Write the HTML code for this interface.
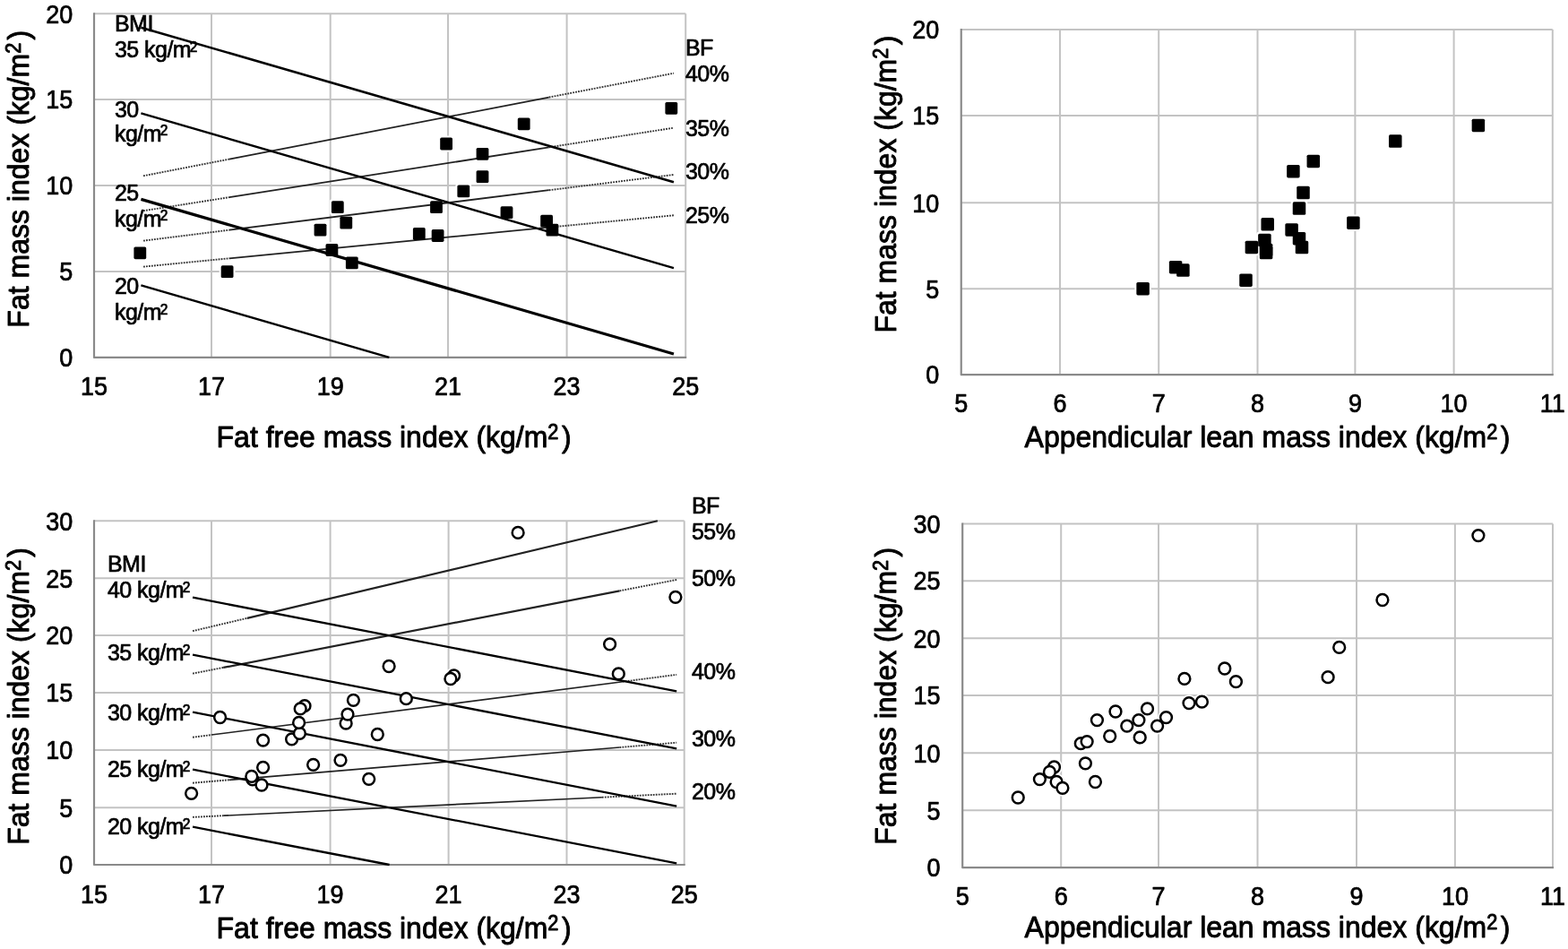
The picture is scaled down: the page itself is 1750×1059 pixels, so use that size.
<!DOCTYPE html>
<html><head><meta charset="utf-8"><title>Fat mass index vs fat free mass index and appendicular lean mass index</title>
<style>html,body{margin:0;padding:0;background:#fff;overflow:hidden;}svg{display:block;}
text{font-family:"Liberation Sans", Arial, sans-serif;fill:#000;stroke:#000;stroke-width:0.7px;stroke-linejoin:round;}
.a{font-size:25px;letter-spacing:-0.55px;}
.t{stroke-width:0.9px;}</style></head>
<body><svg width="1750" height="1059" viewBox="0 0 1750 1059">
<rect width="1750" height="1059" fill="#fff"/>
<g stroke="#c3c3c3" stroke-width="2"><line x1="236.00" y1="15.30" x2="236.00" y2="398.90"/><line x1="368.70" y1="15.30" x2="368.70" y2="398.90"/><line x1="500.00" y1="15.30" x2="500.00" y2="398.90"/><line x1="632.60" y1="15.30" x2="632.60" y2="398.90"/><line x1="765.20" y1="15.30" x2="765.20" y2="398.90"/><line x1="105.00" y1="303.00" x2="765.20" y2="303.00"/><line x1="105.00" y1="207.00" x2="765.20" y2="207.00"/><line x1="105.00" y1="111.10" x2="765.20" y2="111.10"/><line x1="105.00" y1="15.30" x2="765.20" y2="15.30"/></g><path d="M105.00,14.30V398.90H766.20" fill="none" stroke="#8a8a8a" stroke-width="2.2" stroke-linejoin="round"/>
<g fill="#fff"><rect x="147.40" y="273.40" width="17.8" height="17.8" rx="3"/><rect x="244.70" y="294.30" width="17.8" height="17.8" rx="3"/><rect x="348.60" y="247.70" width="17.8" height="17.8" rx="3"/><rect x="367.90" y="222.30" width="17.8" height="17.8" rx="3"/><rect x="377.40" y="239.70" width="17.8" height="17.8" rx="3"/><rect x="361.50" y="270.10" width="17.8" height="17.8" rx="3"/><rect x="383.90" y="284.50" width="17.8" height="17.8" rx="3"/><rect x="740.40" y="111.90" width="17.8" height="17.8" rx="3"/><rect x="575.80" y="129.40" width="17.8" height="17.8" rx="3"/><rect x="489.20" y="151.60" width="17.8" height="17.8" rx="3"/><rect x="529.60" y="162.90" width="17.8" height="17.8" rx="3"/><rect x="529.60" y="188.20" width="17.8" height="17.8" rx="3"/><rect x="508.40" y="204.50" width="17.8" height="17.8" rx="3"/><rect x="478.10" y="222.30" width="17.8" height="17.8" rx="3"/><rect x="556.60" y="228.30" width="17.8" height="17.8" rx="3"/><rect x="601.20" y="237.80" width="17.8" height="17.8" rx="3"/><rect x="607.50" y="247.70" width="17.8" height="17.8" rx="3"/><rect x="458.90" y="252.10" width="17.8" height="17.8" rx="3"/><rect x="479.70" y="254.10" width="17.8" height="17.8" rx="3"/></g>
<line x1="160.02" y1="297.62" x2="255.91" y2="288.28" stroke="#333" stroke-width="1.9" stroke-dasharray="1.8 1.2"/>
<line x1="255.91" y1="288.28" x2="612.71" y2="253.72" stroke="#222" stroke-width="1.8"/>
<line x1="612.71" y1="253.72" x2="751.94" y2="240.28" stroke="#333" stroke-width="1.9" stroke-dasharray="1.8 1.2"/>
<line x1="160.02" y1="268.66" x2="255.91" y2="256.65" stroke="#333" stroke-width="1.9" stroke-dasharray="1.8 1.2"/>
<line x1="255.91" y1="256.65" x2="612.71" y2="212.21" stroke="#222" stroke-width="1.8"/>
<line x1="612.71" y1="212.21" x2="751.94" y2="194.94" stroke="#333" stroke-width="1.9" stroke-dasharray="1.8 1.2"/>
<line x1="160.02" y1="235.24" x2="255.91" y2="220.14" stroke="#333" stroke-width="1.9" stroke-dasharray="1.8 1.2"/>
<line x1="255.91" y1="220.14" x2="612.71" y2="164.36" stroke="#222" stroke-width="1.8"/>
<line x1="612.71" y1="164.36" x2="751.94" y2="142.67" stroke="#333" stroke-width="1.9" stroke-dasharray="1.8 1.2"/>
<line x1="160.02" y1="196.26" x2="255.91" y2="177.59" stroke="#333" stroke-width="1.9" stroke-dasharray="1.8 1.2"/>
<line x1="255.91" y1="177.59" x2="612.71" y2="108.55" stroke="#222" stroke-width="1.8"/>
<line x1="612.71" y1="108.55" x2="751.94" y2="81.72" stroke="#333" stroke-width="1.9" stroke-dasharray="1.8 1.2"/>
<g stroke="#000"><line x1="157.40" y1="318.34" x2="434.35" y2="398.90" stroke-width="2.4"/><line x1="157.40" y1="222.36" x2="751.94" y2="395.06" stroke-width="3.2"/><line x1="157.40" y1="126.44" x2="751.94" y2="299.16" stroke-width="2.4"/><line x1="157.40" y1="30.63" x2="751.94" y2="203.16" stroke-width="2.6"/></g>
<g fill="#000"><rect x="149.40" y="275.40" width="13.8" height="13.8" rx="1.6"/><rect x="246.70" y="296.30" width="13.8" height="13.8" rx="1.6"/><rect x="350.60" y="249.70" width="13.8" height="13.8" rx="1.6"/><rect x="369.90" y="224.30" width="13.8" height="13.8" rx="1.6"/><rect x="379.40" y="241.70" width="13.8" height="13.8" rx="1.6"/><rect x="363.50" y="272.10" width="13.8" height="13.8" rx="1.6"/><rect x="385.90" y="286.50" width="13.8" height="13.8" rx="1.6"/><rect x="742.40" y="113.90" width="13.8" height="13.8" rx="1.6"/><rect x="577.80" y="131.40" width="13.8" height="13.8" rx="1.6"/><rect x="491.20" y="153.60" width="13.8" height="13.8" rx="1.6"/><rect x="531.60" y="164.90" width="13.8" height="13.8" rx="1.6"/><rect x="531.60" y="190.20" width="13.8" height="13.8" rx="1.6"/><rect x="510.40" y="206.50" width="13.8" height="13.8" rx="1.6"/><rect x="480.10" y="224.30" width="13.8" height="13.8" rx="1.6"/><rect x="558.60" y="230.30" width="13.8" height="13.8" rx="1.6"/><rect x="603.20" y="239.80" width="13.8" height="13.8" rx="1.6"/><rect x="609.50" y="249.70" width="13.8" height="13.8" rx="1.6"/><rect x="460.90" y="254.10" width="13.8" height="13.8" rx="1.6"/><rect x="481.70" y="256.10" width="13.8" height="13.8" rx="1.6"/></g>
<g font-size="27"><text transform="translate(105.00,441.30) scale(1,1.065)" text-anchor="middle">15</text><text transform="translate(236.00,441.30) scale(1,1.065)" text-anchor="middle">17</text><text transform="translate(368.70,441.30) scale(1,1.065)" text-anchor="middle">19</text><text transform="translate(500.00,441.30) scale(1,1.065)" text-anchor="middle">21</text><text transform="translate(632.60,441.30) scale(1,1.065)" text-anchor="middle">23</text><text transform="translate(765.20,441.30) scale(1,1.065)" text-anchor="middle">25</text><text transform="translate(81.30,409.10) scale(1,1.065)" text-anchor="end">0</text><text transform="translate(81.30,313.20) scale(1,1.065)" text-anchor="end">5</text><text transform="translate(81.30,217.20) scale(1,1.065)" text-anchor="end">10</text><text transform="translate(81.30,121.30) scale(1,1.065)" text-anchor="end">15</text><text transform="translate(81.30,25.50) scale(1,1.065)" text-anchor="end">20</text></g>
<text class="a" transform="translate(128,35.3) scale(1,1.065)">BMI</text>
<text class="a" transform="translate(128,64.2) scale(1,1.065)">35 kg/m<tspan font-size="15.5" dx="-1.3" dy="-5.8">2</tspan></text>
<text class="a" transform="translate(128,131.2) scale(1,1.065)">30</text>
<text class="a" transform="translate(128,157.6) scale(1,1.065)">kg/m<tspan font-size="15.5" dx="-1.3" dy="-5.8">2</tspan></text>
<text class="a" transform="translate(128,224.4) scale(1,1.065)">25</text>
<text class="a" transform="translate(128,252.6) scale(1,1.065)">kg/m<tspan font-size="15.5" dx="-1.3" dy="-5.8">2</tspan></text>
<text class="a" transform="translate(128,328.3) scale(1,1.065)">20</text>
<text class="a" transform="translate(128,357) scale(1,1.065)">kg/m<tspan font-size="15.5" dx="-1.3" dy="-5.8">2</tspan></text>
<text class="a" transform="translate(765,62.3) scale(1,1.065)">BF</text>
<text class="a" transform="translate(765,91.2) scale(1,1.065)">40%</text>
<text class="a" transform="translate(765,151.9) scale(1,1.065)">35%</text>
<text class="a" transform="translate(765,200.1) scale(1,1.065)">30%</text>
<text class="a" transform="translate(765,249.2) scale(1,1.065)">25%</text>
<text class="t" transform="translate(31.70,199.70) rotate(-90) scale(1,1.065)" text-anchor="middle" font-size="32">Fat mass index (kg/m<tspan font-size="21.8" dy="-8.5">2</tspan><tspan dy="8.5" dx="3.3">)</tspan></text>
<text class="t" transform="translate(439.60,499.00) scale(1,1.065)" text-anchor="middle" font-size="32">Fat free mass index (kg/m<tspan font-size="21.8" dy="-8.5">2</tspan><tspan dy="8.5" dx="3.5">)</tspan></text>
<g stroke="#c3c3c3" stroke-width="2"><line x1="1183.00" y1="33.00" x2="1183.00" y2="418.20"/><line x1="1293.20" y1="33.00" x2="1293.20" y2="418.20"/><line x1="1403.50" y1="33.00" x2="1403.50" y2="418.20"/><line x1="1512.40" y1="33.00" x2="1512.40" y2="418.20"/><line x1="1622.60" y1="33.00" x2="1622.60" y2="418.20"/><line x1="1732.80" y1="33.00" x2="1732.80" y2="418.20"/><line x1="1072.75" y1="322.30" x2="1732.80" y2="322.30"/><line x1="1072.75" y1="226.30" x2="1732.80" y2="226.30"/><line x1="1072.75" y1="128.90" x2="1732.80" y2="128.90"/><line x1="1072.75" y1="33.00" x2="1732.80" y2="33.00"/></g><path d="M1072.75,32.00V418.20H1733.80" fill="none" stroke="#8a8a8a" stroke-width="2.2" stroke-linejoin="round"/>
<g fill="#fff"><rect x="1640.65" y="130.65" width="18.5" height="18.5" rx="3"/><rect x="1548.05" y="148.35" width="18.5" height="18.5" rx="3"/><rect x="1456.55" y="170.65" width="18.5" height="18.5" rx="3"/><rect x="1434.15" y="181.95" width="18.5" height="18.5" rx="3"/><rect x="1445.25" y="205.75" width="18.5" height="18.5" rx="3"/><rect x="1440.75" y="223.35" width="18.5" height="18.5" rx="3"/><rect x="1501.15" y="239.45" width="18.5" height="18.5" rx="3"/><rect x="1405.45" y="241.05" width="18.5" height="18.5" rx="3"/><rect x="1432.35" y="247.15" width="18.5" height="18.5" rx="3"/><rect x="1440.75" y="256.95" width="18.5" height="18.5" rx="3"/><rect x="1443.75" y="266.85" width="18.5" height="18.5" rx="3"/><rect x="1402.15" y="258.85" width="18.5" height="18.5" rx="3"/><rect x="1387.65" y="266.65" width="18.5" height="18.5" rx="3"/><rect x="1403.85" y="269.75" width="18.5" height="18.5" rx="3"/><rect x="1403.85" y="272.75" width="18.5" height="18.5" rx="3"/><rect x="1302.85" y="288.95" width="18.5" height="18.5" rx="3"/><rect x="1311.15" y="292.35" width="18.5" height="18.5" rx="3"/><rect x="1381.25" y="303.45" width="18.5" height="18.5" rx="3"/><rect x="1266.35" y="312.95" width="18.5" height="18.5" rx="3"/></g>
<g fill="#000"><rect x="1642.65" y="132.65" width="14.5" height="14.5" rx="1.6"/><rect x="1550.05" y="150.35" width="14.5" height="14.5" rx="1.6"/><rect x="1458.55" y="172.65" width="14.5" height="14.5" rx="1.6"/><rect x="1436.15" y="183.95" width="14.5" height="14.5" rx="1.6"/><rect x="1447.25" y="207.75" width="14.5" height="14.5" rx="1.6"/><rect x="1442.75" y="225.35" width="14.5" height="14.5" rx="1.6"/><rect x="1503.15" y="241.45" width="14.5" height="14.5" rx="1.6"/><rect x="1407.45" y="243.05" width="14.5" height="14.5" rx="1.6"/><rect x="1434.35" y="249.15" width="14.5" height="14.5" rx="1.6"/><rect x="1442.75" y="258.95" width="14.5" height="14.5" rx="1.6"/><rect x="1445.75" y="268.85" width="14.5" height="14.5" rx="1.6"/><rect x="1404.15" y="260.85" width="14.5" height="14.5" rx="1.6"/><rect x="1389.65" y="268.65" width="14.5" height="14.5" rx="1.6"/><rect x="1405.85" y="271.75" width="14.5" height="14.5" rx="1.6"/><rect x="1405.85" y="274.75" width="14.5" height="14.5" rx="1.6"/><rect x="1304.85" y="290.95" width="14.5" height="14.5" rx="1.6"/><rect x="1313.15" y="294.35" width="14.5" height="14.5" rx="1.6"/><rect x="1383.25" y="305.45" width="14.5" height="14.5" rx="1.6"/><rect x="1268.35" y="314.95" width="14.5" height="14.5" rx="1.6"/></g>
<g font-size="27"><text transform="translate(1072.75,460.30) scale(1,1.065)" text-anchor="middle">5</text><text transform="translate(1183.00,460.30) scale(1,1.065)" text-anchor="middle">6</text><text transform="translate(1293.20,460.30) scale(1,1.065)" text-anchor="middle">7</text><text transform="translate(1403.50,460.30) scale(1,1.065)" text-anchor="middle">8</text><text transform="translate(1512.40,460.30) scale(1,1.065)" text-anchor="middle">9</text><text transform="translate(1622.60,460.30) scale(1,1.065)" text-anchor="middle">10</text><text transform="translate(1732.80,460.30) scale(1,1.065)" text-anchor="middle">11</text><text transform="translate(1048.20,428.40) scale(1,1.065)" text-anchor="end">0</text><text transform="translate(1048.20,332.50) scale(1,1.065)" text-anchor="end">5</text><text transform="translate(1048.20,236.50) scale(1,1.065)" text-anchor="end">10</text><text transform="translate(1048.20,139.10) scale(1,1.065)" text-anchor="end">15</text><text transform="translate(1048.20,43.20) scale(1,1.065)" text-anchor="end">20</text></g>
<text class="t" transform="translate(999.80,205.60) rotate(-90) scale(1,1.065)" text-anchor="middle" font-size="32">Fat mass index (kg/m<tspan font-size="21.8" dy="-8.5">2</tspan><tspan dy="8.5" dx="3.3">)</tspan></text>
<text class="t" transform="translate(1414.50,499.20) scale(1,1.065)" text-anchor="middle" font-size="32">Appendicular lean mass index (kg/m<tspan font-size="21.8" dy="-8.5">2</tspan><tspan dy="8.5" dx="3.5">)</tspan></text>
<g stroke="#c3c3c3" stroke-width="2"><line x1="236.00" y1="581.30" x2="236.00" y2="965.00"/><line x1="368.60" y1="581.30" x2="368.60" y2="965.00"/><line x1="500.60" y1="581.30" x2="500.60" y2="965.00"/><line x1="632.50" y1="581.30" x2="632.50" y2="965.00"/><line x1="763.70" y1="581.30" x2="763.70" y2="965.00"/><line x1="105.00" y1="901.30" x2="763.70" y2="901.30"/><line x1="105.00" y1="837.10" x2="763.70" y2="837.10"/><line x1="105.00" y1="773.10" x2="763.70" y2="773.10"/><line x1="105.00" y1="709.10" x2="763.70" y2="709.10"/><line x1="105.00" y1="645.30" x2="763.70" y2="645.30"/><line x1="105.00" y1="581.30" x2="763.70" y2="581.30"/></g><path d="M105.00,580.30V965.00H764.70" fill="none" stroke="#8a8a8a" stroke-width="2.2" stroke-linejoin="round"/>
<g fill="#fff"><circle cx="213.60" cy="885.30" r="9.45"/><circle cx="245.60" cy="800.50" r="9.45"/><circle cx="281.90" cy="869.90" r="9.45"/><circle cx="280.80" cy="866.40" r="9.45"/><circle cx="292.00" cy="876.00" r="9.45"/><circle cx="293.60" cy="826.10" r="9.45"/><circle cx="293.60" cy="856.30" r="9.45"/><circle cx="325.60" cy="824.80" r="9.45"/><circle cx="334.40" cy="818.40" r="9.45"/><circle cx="333.60" cy="806.40" r="9.45"/><circle cx="340.00" cy="787.70" r="9.45"/><circle cx="335.20" cy="790.90" r="9.45"/><circle cx="349.60" cy="853.30" r="9.45"/><circle cx="380.00" cy="848.30" r="9.45"/><circle cx="386.10" cy="807.20" r="9.45"/><circle cx="388.00" cy="797.10" r="9.45"/><circle cx="394.40" cy="781.30" r="9.45"/><circle cx="411.70" cy="869.30" r="9.45"/><circle cx="421.30" cy="819.50" r="9.45"/><circle cx="434.10" cy="743.50" r="9.45"/><circle cx="453.30" cy="779.70" r="9.45"/><circle cx="506.60" cy="754.00" r="9.45"/><circle cx="502.90" cy="757.50" r="9.45"/><circle cx="578.10" cy="594.40" r="9.45"/><circle cx="680.60" cy="718.80" r="9.45"/><circle cx="690.30" cy="751.90" r="9.45"/><circle cx="753.90" cy="666.30" r="9.45"/></g>
<line x1="215.04" y1="911.87" x2="249.26" y2="910.22" stroke="#333" stroke-width="1.9" stroke-dasharray="1.8 1.2"/>
<line x1="249.26" y1="910.22" x2="671.86" y2="889.74" stroke="#222" stroke-width="1.7"/>
<line x1="671.86" y1="889.74" x2="755.17" y2="885.67" stroke="#333" stroke-width="1.9" stroke-dasharray="1.8 1.2"/>
<line x1="215.04" y1="873.71" x2="255.89" y2="870.30" stroke="#333" stroke-width="1.9" stroke-dasharray="1.8 1.2"/>
<line x1="255.89" y1="870.30" x2="691.54" y2="833.99" stroke="#222" stroke-width="1.7"/>
<line x1="691.54" y1="833.99" x2="755.17" y2="828.67" stroke="#333" stroke-width="1.9" stroke-dasharray="1.8 1.2"/>
<line x1="215.04" y1="822.76" x2="236.00" y2="820.03" stroke="#333" stroke-width="1.9" stroke-dasharray="1.8 1.2"/>
<line x1="236.00" y1="820.03" x2="694.82" y2="760.73" stroke="#222" stroke-width="1.6"/>
<line x1="694.82" y1="760.73" x2="755.17" y2="752.88" stroke="#333" stroke-width="1.9" stroke-dasharray="1.8 1.2"/>
<line x1="215.04" y1="751.60" x2="249.26" y2="744.94" stroke="#333" stroke-width="1.9" stroke-dasharray="1.8 1.2"/>
<line x1="249.26" y1="744.94" x2="691.54" y2="659.34" stroke="#222" stroke-width="2.2"/>
<line x1="691.54" y1="659.34" x2="755.17" y2="646.96" stroke="#333" stroke-width="1.9" stroke-dasharray="1.8 1.2"/>
<line x1="215.04" y1="704.17" x2="275.78" y2="689.82" stroke="#333" stroke-width="1.9" stroke-dasharray="1.8 1.2"/>
<line x1="275.78" y1="689.82" x2="733.88" y2="581.30" stroke="#222" stroke-width="2.2"/>
<g stroke="#000"><line x1="215.04" y1="922.70" x2="434.60" y2="965.00" stroke-width="2.3"/><line x1="215.04" y1="858.67" x2="755.17" y2="963.34" stroke-width="2.3"/><line x1="215.04" y1="794.60" x2="755.17" y2="899.63" stroke-width="2.3"/><line x1="215.04" y1="730.60" x2="755.17" y2="835.44" stroke-width="2.3"/><line x1="215.04" y1="666.74" x2="755.17" y2="771.44" stroke-width="2.3"/></g>
<g fill="#fff" stroke="#000" stroke-width="2.5"><circle cx="213.60" cy="885.30" r="6.4"/><circle cx="245.60" cy="800.50" r="6.4"/><circle cx="281.90" cy="869.90" r="6.4"/><circle cx="280.80" cy="866.40" r="6.4"/><circle cx="292.00" cy="876.00" r="6.4"/><circle cx="293.60" cy="826.10" r="6.4"/><circle cx="293.60" cy="856.30" r="6.4"/><circle cx="325.60" cy="824.80" r="6.4"/><circle cx="334.40" cy="818.40" r="6.4"/><circle cx="333.60" cy="806.40" r="6.4"/><circle cx="340.00" cy="787.70" r="6.4"/><circle cx="335.20" cy="790.90" r="6.4"/><circle cx="349.60" cy="853.30" r="6.4"/><circle cx="380.00" cy="848.30" r="6.4"/><circle cx="386.10" cy="807.20" r="6.4"/><circle cx="388.00" cy="797.10" r="6.4"/><circle cx="394.40" cy="781.30" r="6.4"/><circle cx="411.70" cy="869.30" r="6.4"/><circle cx="421.30" cy="819.50" r="6.4"/><circle cx="434.10" cy="743.50" r="6.4"/><circle cx="453.30" cy="779.70" r="6.4"/><circle cx="506.60" cy="754.00" r="6.4"/><circle cx="502.90" cy="757.50" r="6.4"/><circle cx="578.10" cy="594.40" r="6.4"/><circle cx="680.60" cy="718.80" r="6.4"/><circle cx="690.30" cy="751.90" r="6.4"/><circle cx="753.90" cy="666.30" r="6.4"/></g>
<g font-size="27"><text transform="translate(105.00,1008.20) scale(1,1.065)" text-anchor="middle">15</text><text transform="translate(236.00,1008.20) scale(1,1.065)" text-anchor="middle">17</text><text transform="translate(368.60,1008.20) scale(1,1.065)" text-anchor="middle">19</text><text transform="translate(500.60,1008.20) scale(1,1.065)" text-anchor="middle">21</text><text transform="translate(632.50,1008.20) scale(1,1.065)" text-anchor="middle">23</text><text transform="translate(763.70,1008.20) scale(1,1.065)" text-anchor="middle">25</text><text transform="translate(81.30,975.20) scale(1,1.065)" text-anchor="end">0</text><text transform="translate(81.30,911.50) scale(1,1.065)" text-anchor="end">5</text><text transform="translate(81.30,847.30) scale(1,1.065)" text-anchor="end">10</text><text transform="translate(81.30,783.30) scale(1,1.065)" text-anchor="end">15</text><text transform="translate(81.30,719.30) scale(1,1.065)" text-anchor="end">20</text><text transform="translate(81.30,655.50) scale(1,1.065)" text-anchor="end">25</text><text transform="translate(81.30,591.50) scale(1,1.065)" text-anchor="end">30</text></g>
<text class="a" transform="translate(120,638.3) scale(1,1.065)">BMI</text>
<text class="a" transform="translate(120,667) scale(1,1.065)">40 kg/m<tspan font-size="15.5" dx="-1.3" dy="-5.8">2</tspan></text>
<text class="a" transform="translate(120,737) scale(1,1.065)">35 kg/m<tspan font-size="15.5" dx="-1.3" dy="-5.8">2</tspan></text>
<text class="a" transform="translate(120,804) scale(1,1.065)">30 kg/m<tspan font-size="15.5" dx="-1.3" dy="-5.8">2</tspan></text>
<text class="a" transform="translate(120,866.7) scale(1,1.065)">25 kg/m<tspan font-size="15.5" dx="-1.3" dy="-5.8">2</tspan></text>
<text class="a" transform="translate(120,931) scale(1,1.065)">20 kg/m<tspan font-size="15.5" dx="-1.3" dy="-5.8">2</tspan></text>
<text class="a" transform="translate(772,572.6) scale(1,1.065)">BF</text>
<text class="a" transform="translate(772,601.5) scale(1,1.065)">55%</text>
<text class="a" transform="translate(772,654) scale(1,1.065)">50%</text>
<text class="a" transform="translate(772,757.7) scale(1,1.065)">40%</text>
<text class="a" transform="translate(772,833) scale(1,1.065)">30%</text>
<text class="a" transform="translate(772,892.3) scale(1,1.065)">20%</text>
<text class="t" transform="translate(31.70,776.90) rotate(-90) scale(1,1.065)" text-anchor="middle" font-size="32">Fat mass index (kg/m<tspan font-size="21.8" dy="-8.5">2</tspan><tspan dy="8.5" dx="3.3">)</tspan></text>
<text class="t" transform="translate(439.60,1047.00) scale(1,1.065)" text-anchor="middle" font-size="32">Fat free mass index (kg/m<tspan font-size="21.8" dy="-8.5">2</tspan><tspan dy="8.5" dx="3.5">)</tspan></text>
<g stroke="#c3c3c3" stroke-width="2"><line x1="1184.20" y1="584.50" x2="1184.20" y2="968.20"/><line x1="1293.00" y1="584.50" x2="1293.00" y2="968.20"/><line x1="1403.50" y1="584.50" x2="1403.50" y2="968.20"/><line x1="1514.00" y1="584.50" x2="1514.00" y2="968.20"/><line x1="1623.90" y1="584.50" x2="1623.90" y2="968.20"/><line x1="1733.00" y1="584.50" x2="1733.00" y2="968.20"/><line x1="1074.20" y1="904.30" x2="1733.00" y2="904.30"/><line x1="1074.20" y1="840.30" x2="1733.00" y2="840.30"/><line x1="1074.20" y1="776.10" x2="1733.00" y2="776.10"/><line x1="1074.20" y1="712.30" x2="1733.00" y2="712.30"/><line x1="1074.20" y1="648.20" x2="1733.00" y2="648.20"/><line x1="1074.20" y1="584.50" x2="1733.00" y2="584.50"/></g><path d="M1074.20,583.50V968.20H1734.00" fill="none" stroke="#8a8a8a" stroke-width="2.2" stroke-linejoin="round"/>
<g fill="#fff"><circle cx="1366.80" cy="746.00" r="9.45"/><circle cx="1379.40" cy="760.60" r="9.45"/><circle cx="1321.90" cy="757.40" r="9.45"/><circle cx="1327.00" cy="784.60" r="9.45"/><circle cx="1341.40" cy="783.20" r="9.45"/><circle cx="1280.50" cy="790.90" r="9.45"/><circle cx="1301.50" cy="800.60" r="9.45"/><circle cx="1291.60" cy="810.10" r="9.45"/><circle cx="1270.90" cy="803.60" r="9.45"/><circle cx="1257.80" cy="810.10" r="9.45"/><circle cx="1272.20" cy="822.90" r="9.45"/><circle cx="1245.00" cy="794.00" r="9.45"/><circle cx="1224.40" cy="803.60" r="9.45"/><circle cx="1238.70" cy="821.50" r="9.45"/><circle cx="1206.30" cy="829.70" r="9.45"/><circle cx="1213.10" cy="827.60" r="9.45"/><circle cx="1211.40" cy="851.80" r="9.45"/><circle cx="1176.50" cy="856.00" r="9.45"/><circle cx="1171.40" cy="861.40" r="9.45"/><circle cx="1160.40" cy="869.60" r="9.45"/><circle cx="1179.10" cy="872.50" r="9.45"/><circle cx="1185.90" cy="879.30" r="9.45"/><circle cx="1222.40" cy="872.50" r="9.45"/><circle cx="1136.20" cy="890.00" r="9.45"/><circle cx="1649.90" cy="597.60" r="9.45"/><circle cx="1542.90" cy="669.50" r="9.45"/><circle cx="1494.70" cy="722.40" r="9.45"/><circle cx="1482.10" cy="755.70" r="9.45"/></g>
<g fill="#fff" stroke="#000" stroke-width="2.5"><circle cx="1366.80" cy="746.00" r="6.4"/><circle cx="1379.40" cy="760.60" r="6.4"/><circle cx="1321.90" cy="757.40" r="6.4"/><circle cx="1327.00" cy="784.60" r="6.4"/><circle cx="1341.40" cy="783.20" r="6.4"/><circle cx="1280.50" cy="790.90" r="6.4"/><circle cx="1301.50" cy="800.60" r="6.4"/><circle cx="1291.60" cy="810.10" r="6.4"/><circle cx="1270.90" cy="803.60" r="6.4"/><circle cx="1257.80" cy="810.10" r="6.4"/><circle cx="1272.20" cy="822.90" r="6.4"/><circle cx="1245.00" cy="794.00" r="6.4"/><circle cx="1224.40" cy="803.60" r="6.4"/><circle cx="1238.70" cy="821.50" r="6.4"/><circle cx="1206.30" cy="829.70" r="6.4"/><circle cx="1213.10" cy="827.60" r="6.4"/><circle cx="1211.40" cy="851.80" r="6.4"/><circle cx="1176.50" cy="856.00" r="6.4"/><circle cx="1171.40" cy="861.40" r="6.4"/><circle cx="1160.40" cy="869.60" r="6.4"/><circle cx="1179.10" cy="872.50" r="6.4"/><circle cx="1185.90" cy="879.30" r="6.4"/><circle cx="1222.40" cy="872.50" r="6.4"/><circle cx="1136.20" cy="890.00" r="6.4"/><circle cx="1649.90" cy="597.60" r="6.4"/><circle cx="1542.90" cy="669.50" r="6.4"/><circle cx="1494.70" cy="722.40" r="6.4"/><circle cx="1482.10" cy="755.70" r="6.4"/></g>
<g font-size="27"><text transform="translate(1074.20,1010.30) scale(1,1.065)" text-anchor="middle">5</text><text transform="translate(1184.20,1010.30) scale(1,1.065)" text-anchor="middle">6</text><text transform="translate(1293.00,1010.30) scale(1,1.065)" text-anchor="middle">7</text><text transform="translate(1403.50,1010.30) scale(1,1.065)" text-anchor="middle">8</text><text transform="translate(1514.00,1010.30) scale(1,1.065)" text-anchor="middle">9</text><text transform="translate(1623.90,1010.30) scale(1,1.065)" text-anchor="middle">10</text><text transform="translate(1733.00,1010.30) scale(1,1.065)" text-anchor="middle">11</text><text transform="translate(1049.50,978.40) scale(1,1.065)" text-anchor="end">0</text><text transform="translate(1049.50,914.50) scale(1,1.065)" text-anchor="end">5</text><text transform="translate(1049.50,850.50) scale(1,1.065)" text-anchor="end">10</text><text transform="translate(1049.50,786.30) scale(1,1.065)" text-anchor="end">15</text><text transform="translate(1049.50,722.50) scale(1,1.065)" text-anchor="end">20</text><text transform="translate(1049.50,658.40) scale(1,1.065)" text-anchor="end">25</text><text transform="translate(1049.50,594.70) scale(1,1.065)" text-anchor="end">30</text></g>
<text class="t" transform="translate(999.80,776.80) rotate(-90) scale(1,1.065)" text-anchor="middle" font-size="32">Fat mass index (kg/m<tspan font-size="21.8" dy="-8.5">2</tspan><tspan dy="8.5" dx="3.3">)</tspan></text>
<text class="t" transform="translate(1414.50,1046.20) scale(1,1.065)" text-anchor="middle" font-size="32">Appendicular lean mass index (kg/m<tspan font-size="21.8" dy="-8.5">2</tspan><tspan dy="8.5" dx="3.5">)</tspan></text>
</svg></body></html>
